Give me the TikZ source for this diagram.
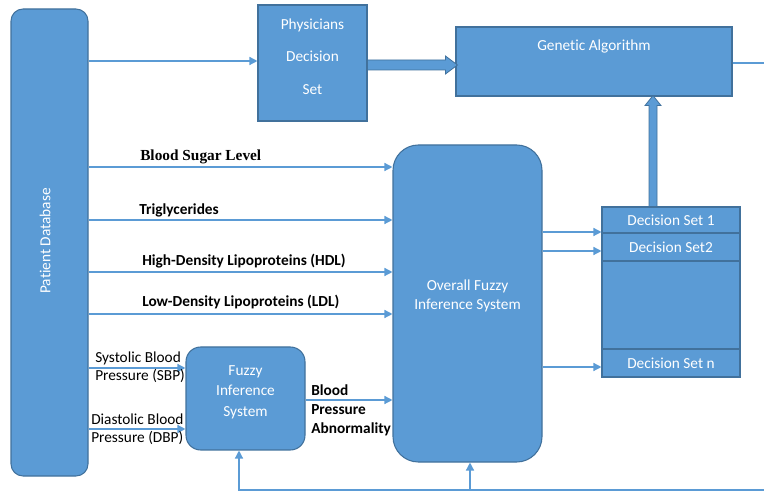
\documentclass[tikz,border=0pt]{standalone}
\usepackage{fontspec}
\setmainfont[Ligatures=NoCommon]{Carlito}
\newfontfamily\labelserif{Liberation Serif}
\usetikzlibrary{arrows.meta,calc}
\definecolor{boxblue}{HTML}{5B9BD5}
\definecolor{boxedge}{HTML}{41719C}
\definecolor{linkblue}{HTML}{5B9BD5}
\begin{document}
\begin{tikzpicture}[x=0.75pt,y=-0.75pt,
  box/.style={draw=boxedge, fill=boxblue, line width=0.8pt, inner sep=0pt},
  boxtext/.style={text=white, inner sep=0pt, align=center, font=\fontsize{11.5}{14}\selectfont},
  link/.style={draw=linkblue, line width=1pt, -{Triangle[length=6pt,width=6pt]}},
  plain/.style={draw=linkblue, line width=1pt},
  lbl/.style={anchor=west, inner sep=0pt, align=left, font=\fontsize{11.5}{13.5}\selectfont},
  lblb/.style={lbl, font=\fontsize{11.5}{14.25}\selectfont\bfseries},
  block/.style={fill=boxblue, draw=boxedge, line width=0.6pt},
]
\useasboundingbox (0,0) rectangle (764,491);

% main blocks
\node[box, rounded corners=9pt, minimum width=57.75pt, minimum height=350.25pt] (db) at (49.5,242.5) {};
\node[boxtext, rotate=90] (dbtext) at (45,241) {Patient Database};

\node[box, minimum width=81.75pt, minimum height=87pt] (phys) at (312.5,63) {};
\node[boxtext, font=\fontsize{11.5}{24.4}\selectfont] (physt) at (312.5,56.5) {Physicians\\Decision\\Set};

\node[box, minimum width=207pt, minimum height=51.75pt] (ga) at (594,61.5) {};
\node[boxtext] (gat) at (594,46) {Genetic Algorithm};

\node[box, rounded corners=19pt, minimum width=111.75pt, minimum height=237.75pt] (fis) at (467.5,303.5) {};
\node[boxtext, font=\fontsize{11.5}{14.25}\selectfont] (fist) at (467.5,296) {Overall Fuzzy\\Inference System};

\node[box, rounded corners=11pt, minimum width=89.25pt, minimum height=77.25pt] (fuzzy) at (245.5,398.5) {};
\node[boxtext, font=\fontsize{11.5}{15.4}\selectfont] (fuzzyt) at (245.5,392) {Fuzzy\\Inference\\System};

% decision set stack
\node[box, boxtext, draw=boxedge, fill=boxblue, minimum width=103.5pt, minimum height=19.5pt] (ds1) at (671,220) {Decision Set 1};
\node[box, boxtext, draw=boxedge, fill=boxblue, minimum width=103.5pt, minimum height=21pt] (ds2) at (671,247) {Decision Set2};
\node[box, minimum width=103.5pt, minimum height=66pt] (dsmid) at (671,305) {};
\node[box, boxtext, draw=boxedge, fill=boxblue, minimum width=103.5pt, minimum height=21pt] (dsn) at (671,363) {Decision Set n};

% patient data to physicians
\draw[link] (db.east |- 0,61) -- (phys.west |- 0,61);

% block arrow: physicians decision set to genetic algorithm
\coordinate (ta0) at (phys.east |- 0,65);
\coordinate (ta1) at (ga.west |- 0,65);
\filldraw[block] ($(ta0)+(0,-5)$) -- ($(ta1)+(-10,-5)$) -- ($(ta1)+(-10,-9)$) -- ($(ta1)+(2,0)$)
  -- ($(ta1)+(-10,9)$) -- ($(ta1)+(-10,5)$) -- ($(ta0)+(0,5)$) -- cycle;

% block arrow: decision sets up to genetic algorithm
\coordinate (ua0) at (653,0 |- ds1.north);
\coordinate (ua1) at (653,0 |- ga.south);
\filldraw[block] ($(ua0)+(-4,0)$) -- ($(ua1)+(-4,9)$) -- ($(ua1)+(-8,9)$) -- ($(ua1)+(0,-1)$)
  -- ($(ua1)+(8,9)$) -- ($(ua1)+(4,9)$) -- ($(ua0)+(4,0)$) -- cycle;

% genetic algorithm output
\coordinate (gaout) at (764,63);
\draw[plain] (ga.east |- gaout) -- (gaout);

% risk factor inputs
\draw[link] (db.east |- 0,167) -- (fis.west |- 0,167);
\draw[link] (db.east |- 0,220) -- (fis.west |- 0,220);
\draw[link] (db.east |- 0,272) -- (fis.west |- 0,272);
\draw[link] (db.east |- 0,314) -- (fis.west |- 0,314);
\node[lbl, font=\fontsize{11.5}{14}\selectfont\labelserif\bfseries] (lsugar) at (140,157) {Blood Sugar Level};
\node[lblb] (ltri) at (139,210) {Triglycerides};
\node[lblb] (lhdl) at (142,261) {High-Density Lipoproteins (HDL)};
\node[lblb] (lldl) at (142,302) {Low-Density Lipoproteins (LDL)};

% blood pressure inputs
\draw[link] (db.east |- 0,368) -- (fuzzy.west |- 0,368);
\draw[link] (db.east |- 0,429) -- (fuzzy.west |- 0,429);
\node[lbl] (lsbp) at (95,367) {Systolic Blood\\Pressure (SBP)};
\node[lbl] (ldbp) at (91,429) {Diastolic Blood\\Pressure (DBP)};

% blood pressure abnormality
\draw[link] (fuzzy.east |- 0,400) -- (fis.west |- 0,400);
\node[lblb] (lbpa) at (311,410) {Blood\\Pressure\\Abnormality};

% overall system to decision sets
\draw[link] (fis.east |- 0,232) -- (ds1.west |- 0,232);
\draw[link] (fis.east |- 0,251) -- (ds2.west |- 0,251);
\draw[link] (fis.east |- 0,367) -- (dsn.west |- 0,367);

% feedback loop along the bottom
\coordinate (fbin) at (764,490);
\coordinate (fbknee) at (239,490);
\draw[link] (fbin) -- (fbknee) -- (fbknee |- fuzzy.south);
\draw[link] (470,0 |- fbin) -- (470,0 |- fis.south);
\end{tikzpicture}
\end{document}
